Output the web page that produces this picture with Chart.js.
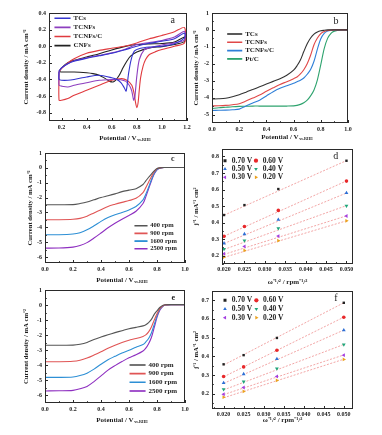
<!DOCTYPE html>
<html><head><meta charset="utf-8">
<script src="https://cdn.jsdelivr.net/npm/chart.js@4.4.1/dist/chart.umd.min.js"></script>
<style>
html,body{margin:0;padding:0;background:#fff;width:382px;height:435px;overflow:hidden;position:relative}
canvas{position:absolute;display:block}
</style></head><body>
<canvas id="pa"></canvas><canvas id="pb"></canvas><canvas id="pc"></canvas>
<canvas id="pd"></canvas><canvas id="pe"></canvas><canvas id="pf"></canvas>
<script>
// ---------------- DATA ----------------
// (a) CV curves: upper (anodic) and lower (cathodic) branches, potential (V) / current (mA cm-2)
const cvTCsUpV = [0.18,0.2,0.25,0.3,0.4,0.5,0.6,0.7,0.8,0.9,1.0,1.1,1.18];
const cvTCsUpI = [-0.30,-0.26,-0.21,-0.18,-0.145,-0.115,-0.085,-0.045,0.0,0.035,0.06,0.09,0.16];
const cvTCsLoV = [1.18,1.1,1.0,0.9,0.83,0.78,0.755,0.735,0.715,0.70,0.675,0.64,0.6,0.5,0.4,0.3,0.25,0.2,0.18];
const cvTCsLoI = [0.10,0.03,0.0,-0.01,-0.025,-0.06,-0.16,-0.32,-0.54,-0.50,-0.44,-0.40,-0.38,-0.35,-0.37,-0.40,-0.41,-0.41,-0.40];

const cvTCNFsUpV = [0.18,0.2,0.25,0.3,0.4,0.5,0.6,0.7,0.8,0.9,1.0,1.1,1.18];
const cvTCNFsUpI = [-0.30,-0.26,-0.21,-0.175,-0.14,-0.11,-0.08,-0.04,0.02,0.045,0.07,0.11,0.18];
const cvTCNFsLoV = [1.18,1.1,1.0,0.9,0.86,0.82,0.80,0.785,0.775,0.76,0.74,0.71,0.65,0.6,0.5,0.4,0.3,0.25,0.2,0.18];
const cvTCNFsLoI = [0.075,0.04,0.015,-0.02,-0.04,-0.16,-0.36,-0.60,-0.65,-0.54,-0.47,-0.42,-0.40,-0.40,-0.41,-0.44,-0.47,-0.49,-0.48,-0.47];

const cvTCNFsCUpV = [0.18,0.2,0.25,0.3,0.4,0.5,0.6,0.7,0.8,0.9,1.0,1.1,1.18];
const cvTCNFsCUpI = [-0.31,-0.27,-0.20,-0.15,-0.085,-0.05,-0.025,0.0,0.04,0.09,0.13,0.175,0.225];
const cvTCNFsCLoV = [1.18,1.1,1.0,0.95,0.9,0.87,0.85,0.83,0.82,0.81,0.80,0.79,0.78,0.76,0.72,0.68,0.6,0.5,0.4,0.3,0.25,0.2,0.18];
const cvTCNFsCLoI = [0.04,0.0,-0.04,-0.065,-0.10,-0.16,-0.24,-0.38,-0.52,-0.68,-0.74,-0.68,-0.58,-0.47,-0.41,-0.39,-0.41,-0.47,-0.53,-0.59,-0.63,-0.65,-0.65];

const cvCNFsUpV = [0.18,0.2,0.25,0.3,0.4,0.5,0.6,0.7,0.8,0.9,1.0,1.1,1.18];
const cvCNFsUpI = [-0.30,-0.26,-0.20,-0.17,-0.13,-0.09,-0.045,-0.005,0.02,0.028,0.032,0.05,0.11];
const cvCNFsLoV = [1.18,1.1,1.0,0.9,0.8,0.75,0.72,0.69,0.66,0.63,0.61,0.58,0.55,0.5,0.45,0.4,0.3,0.2,0.18];
const cvCNFsLoI = [0.055,0.02,-0.005,-0.02,-0.07,-0.12,-0.18,-0.26,-0.35,-0.41,-0.43,-0.42,-0.39,-0.35,-0.33,-0.32,-0.31,-0.31,-0.30];

const xTicksA = [0.2,0.4,0.6,0.8,1.0,1.2];
const yTicksA = [0.4,0.2,0.0,-0.2,-0.4,-0.6,-0.8];

// (b) LSV curves
const lsvV      = [0,0.05,0.1,0.15,0.2,0.25,0.3,0.35,0.4,0.45,0.5,0.55,0.6,0.625,0.65,0.675,0.7,0.725,0.75,0.775,0.8,0.825,0.85,0.875,0.9,0.95,1.0];
const lsvTCs    = [-4.08,-4.07,-4.04,-3.95,-3.83,-3.68,-3.52,-3.36,-3.2,-3.04,-2.88,-2.68,-2.38,-2.12,-1.78,-1.28,-0.82,-0.48,-0.25,-0.12,-0.05,-0.02,0,0,0,0,0];
const lsvTCNFs  = [-4.49,-4.48,-4.46,-4.42,-4.36,-4.2,-4.02,-3.85,-3.63,-3.42,-3.22,-3.06,-2.88,-2.78,-2.6,-2.35,-2.0,-1.5,-0.88,-0.48,-0.22,-0.09,-0.03,-0.01,0,0,0];
const lsvTCNFsC = [-4.76,-4.75,-4.74,-4.72,-4.68,-4.5,-4.32,-4.15,-3.9,-3.65,-3.45,-3.3,-3.15,-3.06,-2.97,-2.84,-2.62,-2.34,-1.85,-1.13,-0.52,-0.2,-0.07,-0.02,0,0,0];
const lsvPtC    = [-4.64,-4.6,-4.57,-4.54,-4.52,-4.51,-4.5,-4.5,-4.5,-4.5,-4.5,-4.5,-4.49,-4.46,-4.4,-4.3,-4.15,-3.9,-3.55,-2.95,-2.05,-1.1,-0.5,-0.2,-0.07,0,0];
const potTicks  = [0,0.2,0.4,0.6,0.8,1.0];
const yTicksB   = [1,0,-1,-2,-3,-4,-5];

// (c) RDE curves, TCNFs
const rdeVc    = [0,0.1,0.2,0.25,0.3,0.35,0.4,0.45,0.5,0.55,0.6,0.65,0.7,0.72,0.74,0.76,0.78,0.8,0.82,0.85,0.9,1.0];
const c400     = [-2.48,-2.48,-2.47,-2.4,-2.3,-2.15,-2.0,-1.88,-1.75,-1.6,-1.5,-1.4,-1.12,-0.88,-0.63,-0.42,-0.2,-0.05,0.0,0.02,0.02,0.02];
const c900     = [-3.49,-3.49,-3.46,-3.4,-3.25,-3.03,-2.82,-2.6,-2.45,-2.32,-2.2,-2.05,-1.66,-1.33,-0.96,-0.6,-0.28,-0.07,0.0,0.02,0.02,0.02];
const c1600    = [-4.5,-4.5,-4.45,-4.36,-4.17,-3.9,-3.6,-3.34,-3.15,-3.0,-2.83,-2.6,-2.15,-1.78,-1.3,-0.8,-0.38,-0.11,-0.02,0.02,0.02,0.02];
const c2500    = [-5.4,-5.39,-5.33,-5.22,-5.03,-4.72,-4.38,-4.03,-3.72,-3.45,-3.2,-2.92,-2.4,-1.95,-1.41,-0.88,-0.42,-0.13,-0.03,0.02,0.02,0.02];
const yTicksCE = [1,0,-1,-2,-3,-4,-5,-6];

// (e) RDE curves, TCNFs/C
const rdeVe    = [0,0.1,0.2,0.25,0.3,0.35,0.4,0.45,0.5,0.55,0.6,0.65,0.7,0.72,0.74,0.76,0.78,0.8,0.82,0.84,0.86,0.9,1.0];
const e400     = [-2.67,-2.67,-2.66,-2.6,-2.48,-2.28,-2.12,-1.97,-1.83,-1.7,-1.57,-1.48,-1.38,-1.3,-1.16,-0.95,-0.62,-0.38,-0.16,-0.03,0.02,0.03,0.03];
const e900     = [-3.76,-3.76,-3.73,-3.66,-3.52,-3.32,-3.1,-2.86,-2.66,-2.48,-2.33,-2.22,-2.08,-1.98,-1.78,-1.45,-1.0,-0.58,-0.24,-0.06,0.01,0.03,0.03];
const e1600    = [-4.8,-4.8,-4.77,-4.68,-4.52,-4.25,-3.93,-3.63,-3.4,-3.18,-3.0,-2.8,-2.62,-2.45,-2.22,-1.85,-1.3,-0.72,-0.3,-0.08,0.0,0.03,0.03];
const e2500    = [-5.7,-5.69,-5.66,-5.56,-5.4,-5.08,-4.7,-4.32,-4.02,-3.75,-3.5,-3.3,-3.05,-2.86,-2.56,-2.15,-1.5,-0.82,-0.35,-0.1,0.0,0.03,0.03];

// (d) K-L plots, TCNFs   x = omega^-1/2
const omega    = [0.020,0.025,0.0333,0.050];
const fitOmega = [0.020,0.050];
const d070 = [0.446,0.506,0.603,0.774];
const d060 = [0.317,0.377,0.474,0.651];
const d050 = [0.275,0.331,0.418,0.579];
const d040 = [0.240,0.291,0.365,0.502];
const d030 = [0.212,0.256,0.319,0.440];
const d020 = [0.192,0.232,0.291,0.411];
const dFit070 = [0.445,0.775], dFit060 = [0.318,0.652], dFit050 = [0.274,0.579];
const dFit040 = [0.238,0.503], dFit030 = [0.208,0.441], dFit020 = [0.190,0.411];
// (f) K-L plots, TCNFs/C
const f070 = [0.357,0.406,0.498,0.686];
const f060 = [0.292,0.343,0.432,0.609];
const f050 = [0.257,0.305,0.386,0.540];
const f040 = [0.223,0.264,0.334,0.463];
const f030 = [0.197,0.233,0.292,0.406];
const f020 = [0.181,0.212,0.271,0.383];
const fFit070 = [0.353,0.686], fFit060 = [0.290,0.609], fFit050 = [0.255,0.540];
const fFit040 = [0.220,0.463], fFit030 = [0.195,0.407], fFit020 = [0.178,0.384];
const omegaTicks = [0.020,0.025,0.030,0.035,0.040,0.045,0.050];
const yTicksD = [0.2,0.3,0.4,0.5,0.6,0.7,0.8];
const yTicksF = [0.2,0.3,0.4,0.5,0.6,0.7];
const klLabels = ['0.70 V','0.60 V','0.50 V','0.40 V','0.30 V','0.20 V'];

// ---------------- RENDERING ----------------
const FONT = "'Liberation Serif','Times New Roman',serif";
Chart.defaults.font.family = FONT;
Chart.defaults.color = '#1e1e1e';
Chart.defaults.animation = false;
Chart.defaults.plugins.tooltip.enabled = false;

const pts = (xs, ys) => xs.map((x, i) => ({x: x, y: ys[i]}));
const loop = (uv, ui, lv, li) => pts(uv.concat(lv, [uv[0]]), ui.concat(li, [ui[0]]));

const framePlugin = {
  id: 'frame',
  afterDraw(chart) {
    const {ctx, chartArea: a, scales} = chart;
    const x = scales.x, y = scales.y;
    ctx.save();
    ctx.strokeStyle = '#2a2a2a'; ctx.lineWidth = 1;
    const L = Math.round(a.left), T = Math.round(a.top), R = Math.round(a.right), B = Math.round(a.bottom);
    ctx.strokeRect(L + 0.5, T + 0.5, R - L - 1, B - T - 1);
    ctx.beginPath();
    const xv = x.ticks.map(t => t.value), yv = y.ticks.map(t => t.value);
    const mids = (v, lo, hi) => {
      const out = []; const s = v[1] - v[0];
      for (let i = 0; i < v.length - 1; i++) out.push((v[i] + v[i + 1]) / 2);
      const before = v[0] - s / 2, after = v[v.length - 1] + s / 2;
      if (before > Math.min(lo, hi) && before < Math.max(lo, hi)) out.push(before);
      if (after > Math.min(lo, hi) && after < Math.max(lo, hi)) out.push(after);
      return out;
    };
    const tx = (v, len) => { const p = Math.round(x.getPixelForValue(v)) + 0.5; ctx.moveTo(p, B); ctx.lineTo(p, B - len); };
    const ty = (v, len) => { const p = Math.round(y.getPixelForValue(v)) + 0.5; ctx.moveTo(L, p); ctx.lineTo(L + len, p); };
    xv.forEach(v => tx(v, 3)); mids(xv, x.min, x.max).forEach(v => tx(v, 1.8));
    yv.forEach(v => ty(v, 3)); mids(yv, y.min, y.max).forEach(v => ty(v, 1.8));
    ctx.stroke();
    ctx.restore();
  }
};

const legendPlace = {
  id: 'legendPlace',
  afterLayout(chart, args, o) {
    const lg = chart.legend;
    if (!lg || !o || o.x === undefined) return;
    if (o.h) { lg.maxHeight = o.h; lg.fit(); }
    const w = lg.width, h = o.h || 200;
    lg.left = o.x; lg.top = o.y; lg.right = o.x + w; lg.bottom = o.y + h;
    lg.width = w; lg.height = h;
  }
};

const letterPlugin = {
  id: 'letter',
  afterDraw(chart, args, o) {
    if (!o || !o.text) return;
    const ctx = chart.ctx;
    ctx.save();
    ctx.font = (o.weight || 'normal') + ' ' + o.size + 'px ' + FONT;
    ctx.fillStyle = '#1e1e1e'; ctx.textAlign = 'center'; ctx.textBaseline = 'middle';
    ctx.fillText(o.text, o.x, o.y);
    ctx.restore();
  }
};

const subPlugin = {
  id: 'sub',
  afterDraw(chart, args, o) {
    if (!o || !o.text) return;
    const ctx = chart.ctx, xs = chart.scales.x, t = xs.options.title;
    const size = t.font.size, lh = size * 1.2;
    ctx.save();
    ctx.font = 'bold ' + size + 'px ' + FONT;
    const w = ctx.measureText(t.text).width;
    const cy = xs.bottom - t.padding.bottom - lh / 2;
    const cx = (xs.left + xs.right) / 2;
    ctx.font = 'bold ' + o.size + 'px ' + FONT;
    ctx.fillStyle = '#1e1e1e'; ctx.textAlign = 'left'; ctx.textBaseline = 'middle';
    ctx.fillText(o.text, cx + w / 2 + 0.6, cy + 2);
    ctx.restore();
  }
};

function axis(o) {
  return {
    type: 'linear', position: o.position, min: o.min, max: o.max,
    afterBuildTicks: s => { s.ticks = o.ticks.map(v => ({value: v})); },
    afterFit: s => {
      if (o.position === 'bottom') { s.height = o.size; s.paddingLeft = 0; s.paddingRight = 0; }
      else { s.width = o.size; s.paddingTop = 0; s.paddingBottom = 0; }
    },
    grid: {display: false, drawTicks: false},
    border: {display: false},
    ticks: {font: {size: 6, weight: 'bold'}, color: '#222', padding: o.tickPad, autoSkip: false,
            maxRotation: 0, minRotation: 0, callback: v => Number(v).toFixed(o.dec)},
    title: {display: true, text: o.title, color: '#1e1e1e', font: {size: o.titleSize, weight: 'bold'}, padding: o.titlePad}
  };
}

function makePanel(id, g, datasets, sc, legendOpts, place, letter, sub) {
  const cv = document.getElementById(id);
  cv.width = g.w; cv.height = g.h;
  cv.style.left = g.left + 'px'; cv.style.top = g.top + 'px';
  cv.style.width = g.w + 'px'; cv.style.height = g.h + 'px';
  return new Chart(cv, {
    type: 'scatter',
    data: {datasets: datasets},
    options: {
      responsive: false, maintainAspectRatio: false, animation: false, events: [],
      layout: {padding: {top: g.padT, right: g.padR, left: 0, bottom: 0}},
      scales: {
        x: axis(Object.assign({position: 'bottom', size: g.padB}, sc.x)),
        y: axis(Object.assign({position: 'left', size: g.padL}, sc.y))
      },
      plugins: {
        legend: legendOpts,
        legendPlace: place,
        letter: letter,
        sub: sub || {}
      }
    },
    plugins: [framePlugin, legendPlace, letterPlugin, subPlugin]
  });
}

const lineDS = (label, data, color, tension) => ({
  label: label, data: data, showLine: true, borderColor: color, backgroundColor: color,
  borderWidth: 1.1, pointRadius: 0, tension: tension, fill: false
});
const lineLegend = (size, pad, bw) => ({
  display: true, position: 'chartArea', align: 'start',
  labels: {boxWidth: bw, boxHeight: 0.5, padding: pad, color: '#1e1e1e', font: {size: size, weight: 'bold'}}
});

const geo = {
  a: {left: 0,   top: 0,   w: 195, h: 145, padL: 49, padT: 13, padR: 8,  padB: 24},
  b: {left: 190, top: 0,   w: 190, h: 145, padL: 22, padT: 13, padR: 32, padB: 22},
  c: {left: 0,   top: 145, w: 193, h: 142, padL: 45, padT: 8,  padR: 8,  padB: 24},
  d: {left: 190, top: 142, w: 192, h: 145, padL: 32, padT: 7,  padR: 29, padB: 23},
  e: {left: 0,   top: 287, w: 193, h: 148, padL: 45, padT: 3,  padR: 8,  padB: 32},
  f: {left: 190, top: 287, w: 192, h: 148, padL: 22, padT: 1,  padR: 29, padB: 26}
};

const yTitleCD = 'Current density / mA cm\u207B\u00B2';
const potTitle = 'Potential / V';
const subRHE = {text: 'vs.RHE', size: 4.2};

// (a)
makePanel('pa', geo.a, [
  lineDS('TCs', loop(cvTCsUpV, cvTCsUpI, cvTCsLoV, cvTCsLoI), '#3535cf', 0.25),
  lineDS('TCNFs', loop(cvTCNFsUpV, cvTCNFsUpI, cvTCNFsLoV, cvTCNFsLoI), '#8d3fbf', 0.25),
  lineDS('TCNFs/C', loop(cvTCNFsCUpV, cvTCNFsCUpI, cvTCNFsCLoV, cvTCNFsCLoI), '#e03a3e', 0.25),
  lineDS('CNFs', loop(cvCNFsUpV, cvCNFsUpI, cvCNFsLoV, cvCNFsLoI), '#222222', 0.25)
], {
  x: {min: 0.1, max: 1.2, ticks: xTicksA, dec: 1, tickPad: 3, title: potTitle, titleSize: 7, titlePad: {top: 0, bottom: 3.1}},
  y: {min: -0.9, max: 0.4, ticks: yTicksA, dec: 1, tickPad: 3, title: yTitleCD, titleSize: 6.7, titlePad: {top: 22.7, bottom: 0}}
}, lineLegend(7, 2.1, 15), {x: 52.9, y: 12.7}, {text: 'a', x: 172.7, y: 20, size: 10}, subRHE);

// (b)
makePanel('pb', geo.b, [
  lineDS('TCs', pts(lsvV, lsvTCs), '#333333', 0.3),
  lineDS('TCNFs', pts(lsvV, lsvTCNFs), '#e04848', 0.3),
  lineDS('TCNFs/C', pts(lsvV, lsvTCNFsC), '#2f7fd8', 0.3),
  lineDS('Pt/C', pts(lsvV, lsvPtC), '#2ea36e', 0.3)
], {
  x: {min: 0, max: 1.0, ticks: potTicks, dec: 1, tickPad: 3, title: potTitle, titleSize: 7, titlePad: {top: 0, bottom: 4.1}},
  y: {min: -5.5, max: 1, ticks: yTicksB, dec: 0, tickPad: 3, title: yTitleCD, titleSize: 6.7, titlePad: {top: 2.7, bottom: 0}}
}, lineLegend(7, 1.3, 14), {x: 36.4, y: 29.2}, {text: 'b', x: 146, y: 21.7, size: 10}, subRHE);

// (c)
makePanel('pc', geo.c, [
  lineDS('400 rpm', pts(rdeVc, c400), '#555555', 0.3),
  lineDS('900 rpm', pts(rdeVc, c900), '#e05555', 0.3),
  lineDS('1600 rpm', pts(rdeVc, c1600), '#2d8fd5', 0.3),
  lineDS('2500 rpm', pts(rdeVc, c2500), '#8e2fc0', 0.3)
], {
  x: {min: 0, max: 1.0, ticks: potTicks, dec: 1, tickPad: 3, title: potTitle, titleSize: 7, titlePad: {top: 0, bottom: 2.8}},
  y: {min: -6.4, max: 1, ticks: yTicksCE, dec: 0, tickPad: 3, title: yTitleCD, titleSize: 6.7, titlePad: {top: 26.7, bottom: 0}}
}, lineLegend(6.5, 1.2, 12), {x: 133.8, y: 76.25}, {text: 'c', x: 172.7, y: 14.3, size: 8, weight: 'bold'}, subRHE);

// (e)
makePanel('pe', geo.e, [
  lineDS('400 rpm', pts(rdeVe, e400), '#555555', 0.3),
  lineDS('900 rpm', pts(rdeVe, e900), '#e05555', 0.3),
  lineDS('1600 rpm', pts(rdeVe, e1600), '#2d8fd5', 0.3),
  lineDS('2500 rpm', pts(rdeVe, e2500), '#8e2fc0', 0.3)
], {
  x: {min: 0, max: 1.0, ticks: potTicks, dec: 1, tickPad: 3, title: potTitle, titleSize: 7, titlePad: {top: 0, bottom: 10.8}},
  y: {min: -6.5, max: 1, ticks: yTicksCE, dec: 0, tickPad: 3, title: yTitleCD, titleSize: 6.7, titlePad: {top: 22.7, bottom: 0}}
}, lineLegend(7, 1.67, 15), {x: 128.4, y: 72.8}, {text: 'e', x: 173.3, y: 10.7, size: 8, weight: 'bold'}, subRHE);

// (d) & (f) K-L
const klColors = ['#222222','#e8282a','#2c6fd6','#1fa67a','#a43ee0','#eba21f'];
const klStyles = [['rect',0,1.7],['circle',0,1.8],['triangle',0,2.2],['triangle',180,2.2],['triangle',270,2.2],['triangle',90,2.2]];
function klSets(series, fits) {
  const orderIdx = [0,2,4,1,3,5]; // column-major legend: 0.70,0.50,0.30 | 0.60,0.40,0.20
  const pointSets = orderIdx.map(i => ({
    label: klLabels[i], data: pts(omega, series[i]), showLine: false,
    backgroundColor: klColors[i], borderColor: klColors[i], borderWidth: 0,
    pointStyle: klStyles[i][0], pointRotation: klStyles[i][1], pointRadius: klStyles[i][2], order: 0
  }));
  const fitSets = fits.map((f, i) => ({
    label: 'fit ' + klLabels[i], isFit: true, data: pts(fitOmega, f), showLine: true,
    borderColor: '#ef8f8f', backgroundColor: '#ef8f8f', borderWidth: 0.8, borderDash: [2, 1.5],
    pointRadius: 0, order: 1
  }));
  return pointSets.concat(fitSets);
}
const klLegend = (pad) => ({
  display: true, position: 'chartArea', align: 'start',
  labels: {usePointStyle: true, boxWidth: 6, boxHeight: 3, padding: pad, color: '#1e1e1e',
           font: {size: 7.5, weight: 'bold'},
           filter: (item, data) => !data.datasets[item.datasetIndex].isFit}
});
const klXTitle = '\u03C9\u207B\u00B9/\u00B2 / rpm\u207B\u00B9/\u00B2';
const klYTitle = 'j\u207B\u00B9 / mA\u207B\u00B9 cm\u00B2';

makePanel('pd', geo.d, klSets([d070,d060,d050,d040,d030,d020], [dFit070,dFit060,dFit050,dFit040,dFit030,dFit020]), {
  x: {min: 0.0195, max: 0.0516, ticks: omegaTicks, dec: 3, tickPad: 2, title: klXTitle, titleSize: 7, titlePad: {top: 0, bottom: 1.1}},
  y: {min: 0.15, max: 0.845, ticks: yTicksD, dec: 1, tickPad: 3, title: klYTitle, titleSize: 6.7, titlePad: {top: 2.7, bottom: 0}}
}, klLegend(0.8), {x: 31.2, y: 14.15, h: 30}, {text: 'd', x: 145.7, y: 14, size: 10});

makePanel('pf', geo.f, klSets([f070,f060,f050,f040,f030,f020], [fFit070,fFit060,fFit050,fFit040,fFit030,fFit020]), {
  x: {min: 0.0171, max: 0.0523, ticks: omegaTicks, dec: 3, tickPad: 2, title: klXTitle, titleSize: 7, titlePad: {top: 0, bottom: 10.8}},
  y: {min: 0.118, max: 0.749, ticks: yTicksF, dec: 1, tickPad: 3, title: klYTitle, titleSize: 6.7, titlePad: {top: 2.7, bottom: 0}}
}, klLegend(1.2), {x: 30.8, y: 8.35, h: 31}, {text: 'f', x: 146, y: 11.3, size: 10});
</script>
</body></html>
